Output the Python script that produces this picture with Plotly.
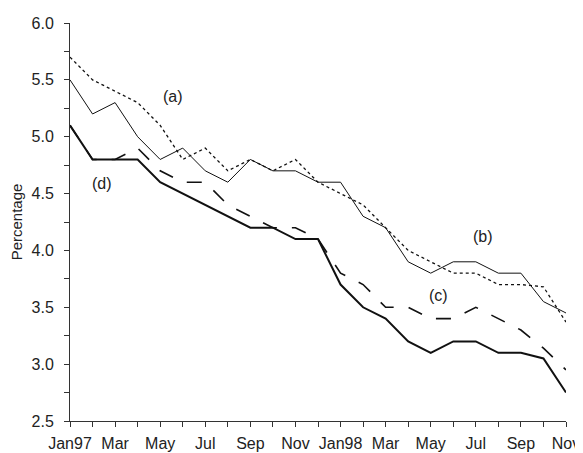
import plotly.graph_objects as go

months = list(range(23))
tick_vals = list(range(0, 23, 2))
tick_text = ["Jan97", "Mar", "May", "Jul", "Sep", "Nov", "Jan98", "Mar", "May", "Jul", "Sep", "Nov"]

series_a = [5.7, 5.5, 5.4, 5.3, 5.1, 4.8, 4.9, 4.7, 4.8, 4.7, 4.8, 4.6,
            4.5, 4.4, 4.2, 4.0, 3.9, 3.8, 3.8, 3.7, 3.7, 3.68, 3.37]
series_b = [5.5, 5.2, 5.3, 5.0, 4.8, 4.9, 4.7, 4.6, 4.8, 4.7, 4.7, 4.6,
            4.6, 4.3, 4.2, 3.9, 3.8, 3.9, 3.9, 3.8, 3.8, 3.55, 3.45]
series_c = [5.1, 4.8, 4.8, 4.9, 4.7, 4.6, 4.6, 4.4, 4.3, 4.2, 4.2, 4.1,
            3.8, 3.7, 3.5, 3.5, 3.4, 3.4, 3.5, 3.4, 3.3, 3.14, 2.95]
series_d = [5.1, 4.8, 4.8, 4.8, 4.6, 4.5, 4.4, 4.3, 4.2, 4.2, 4.1, 4.1,
            3.7, 3.5, 3.4, 3.2, 3.1, 3.2, 3.2, 3.1, 3.1, 3.05, 2.75]

labels = ["(a)", "(b)", "(c)", "(d)"]
label_x = [4.57, 18.33, 16.33, 1.44]
label_y = [5.35, 4.12, 3.60, 4.59]

fig = go.Figure()
fig.add_trace(go.Scatter(x=months, y=series_a, mode="lines",
                         line=dict(color="#111", width=1.3, dash="dot")))
fig.add_trace(go.Scatter(x=months, y=series_b, mode="lines",
                         line=dict(color="#111", width=1)))
fig.add_trace(go.Scatter(x=months, y=series_c, mode="lines",
                         line=dict(color="#111", width=1.6, dash="longdash")))
fig.add_trace(go.Scatter(x=months, y=series_d, mode="lines",
                         line=dict(color="#111", width=2)))

for t, x, y in zip(labels, label_x, label_y):
    fig.add_annotation(x=x, y=y, text=t, showarrow=False,
                       font=dict(size=16, color="#222", family="Liberation Sans"))

# page body has an 8px default margin; compensate so the plot lands where the reference has it
fig.update_layout(
    width=575, height=445,
    margin=dict(l=62, r=17, t=15, b=32),
    plot_bgcolor="white", paper_bgcolor="white",
    showlegend=False,
    font=dict(family="Liberation Sans", size=16, color="#222"),
)
fig.update_xaxes(range=[0, 22], tickvals=tick_vals, ticktext=tick_text,
                 automargin=False,
                 showgrid=False, zeroline=False, showline=True,
                 linecolor="#333", linewidth=1, ticks="outside", ticklen=5,
                 tickcolor="#333", ticklabelstandoff=3,
                 tickfont=dict(size=16),
                 minor=dict(tickvals=months, ticks="outside", ticklen=5, tickcolor="#333"))
fig.update_yaxes(range=[2.5, 6.0], tickvals=[2.5, 3.0, 3.5, 4.0, 4.5, 5.0, 5.5, 6.0],
                 ticktext=["2.5", "3.0", "3.5", "4.0", "4.5", "5.0", "5.5", "6.0"],
                 automargin=False,
                 showgrid=False, zeroline=False, showline=True,
                 linecolor="#333", linewidth=1, ticks="outside", ticklen=5,
                 tickcolor="#333", ticklabelstandoff=7,
                 tickfont=dict(size=16),
                 minor=dict(dtick=0.25, ticks="outside", ticklen=5, tickcolor="#333"),
                 title=dict(text="Percentage", standoff=6, font=dict(size=15)))

fig.write_html("out.html")
